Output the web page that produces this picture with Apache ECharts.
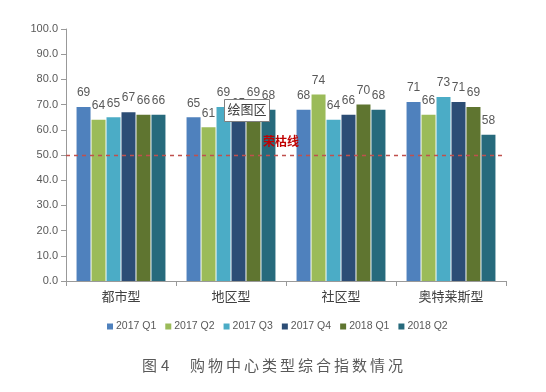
<!DOCTYPE html>
<html><head><meta charset="utf-8">
<script src="https://cdn.jsdelivr.net/npm/echarts@6/dist/echarts.min.js"></script>
<style>html,body{margin:0;padding:0;background:#fff}#c{width:546px;height:392px}</style>
</head><body><div id="c"></div>
<script>
const categories = ['都市型','地区型','社区型','奥特莱斯型'];
const seriesNames = ['2017 Q1','2017 Q2','2017 Q3','2017 Q4','2018 Q1','2018 Q2'];
const q2017_1 = [69, 65, 68, 71];
const q2017_2 = [64, 61, 74, 66];
const q2017_3 = [65, 69, 64, 73];
const q2017_4 = [67, 65, 66, 71];
const q2018_1 = [66, 69, 70, 69];
const q2018_2 = [66, 68, 68, 58];
const boomLine = 50;
const yTicks = [0,10,20,30,40,50,60,70,80,90,100];
const captionChars = ['图','4','购','物','中','心','类','型','综','合','指','数','情','况'];
const colors = ['#4F81BD','#9BBB59','#4BACC6','#2C4D75','#5F7530','#276A7C'];
const values = [q2017_1,q2017_2,q2017_3,q2017_4,q2018_1,q2018_2];
const numFont = '"Liberation Sans",Arial,sans-serif';
const cjk = '"Noto Sans CJK SC",sans-serif';
const chart = echarts.init(document.getElementById('c'));
const series = values.map((v,i)=>({
  name: seriesNames[i], type:'bar', data:v, barWidth:14, barGap:'7%',
  itemStyle:{color:colors[i]},
  label:{show:true, position:'top', distance:8, color:'#595959', fontSize:12, fontFamily:numFont},
  markLine: i===0 ? {symbol:'none', silent:true, label:{show:false},
    lineStyle:{color:'#C0504D', type:[4,4], width:1.3},
    data:[{yAxis:boomLine}]} : undefined
}));
const capX = [142,161,190,208,226,244,262,280,298,316,334,352,370,388];
const captionGraphics = captionChars.map((ch,i)=>({type:'text', z:100, x:capX[i], y:358,
  style:{text:ch, fill:'#595959', fontSize:15, fontFamily:cjk}}));
chart.setOption({
  animation:false,
  grid:{left:66, right:40, top:29, bottom:111},
  legend:{top:316, left:102, itemWidth:6, itemHeight:6, itemGap:9, icon:'rect',
    textStyle:{color:'#595959', fontSize:10.5, fontFamily:numFont, padding:[0,0,0,-2]}, data:seriesNames},
  xAxis:{type:'category', data:categories,
    axisLine:{lineStyle:{color:'#999'}}, axisTick:{show:true, length:5, lineStyle:{color:'#999'}},
    axisLabel:{color:'#404040', fontSize:13, margin:9, fontFamily:cjk}},
  yAxis:{type:'value', min:0, max:100, interval:10,
    axisLine:{show:true, lineStyle:{color:'#999'}}, axisTick:{show:true, length:5, lineStyle:{color:'#999'}},
    splitLine:{show:false},
    axisLabel:{color:'#595959', fontSize:11, fontFamily:numFont, margin:8,
      formatter:v=>yTicks.includes(v)? v.toFixed(1):''}},
  series: series,
  graphic:[
    {type:'text', z:100, left:263, top:135, style:{text:'荣枯线', fill:'#C00000', fontSize:12, fontWeight:'bold', fontFamily:cjk}},
    {type:'group', z:100, left:224, top:99, children:[
      {type:'rect', z:100, shape:{x:0,y:0,width:45,height:22}, style:{fill:'#fff', stroke:'#7f7f7f', lineWidth:1}},
      {type:'text', z:101, x:3, y:3, style:{text:'绘图区', fill:'#404040', fontSize:13, fontFamily:cjk}}
    ]}
  ].concat(captionGraphics)
});
</script></body></html>
